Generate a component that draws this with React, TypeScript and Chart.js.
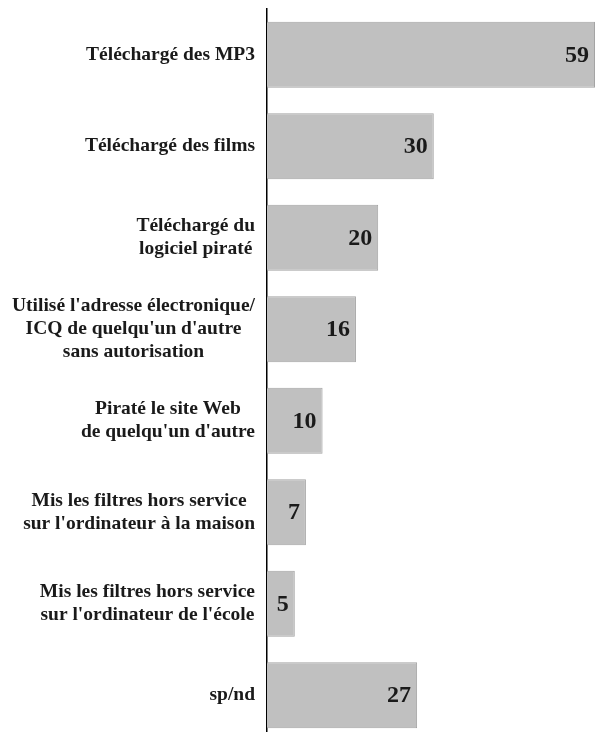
import React, { useEffect, useRef } from "react";
import { Chart, registerables } from "chart.js";

Chart.register(...registerables);

const categories: string[][] = [
  ["Téléchargé des MP3"],
  ["Téléchargé des films"],
  ["Téléchargé du", "logiciel piraté"],
  ["Utilisé l'adresse électronique/", "ICQ de quelqu'un d'autre", "sans autorisation"],
  ["Piraté le site Web", "de quelqu'un d'autre"],
  ["Mis les filtres hors service", "sur l'ordinateur à la maison"],
  ["Mis les filtres hors service", "sur l'ordinateur de l'école"],
  ["sp/nd"],
];

const values: number[] = [59, 30, 20, 16, 10, 7, 5, 27];

const LABEL_FONT = 'bold 19.5px "Liberation Serif", serif';
const VALUE_FONT = 'bold 24px "Liberation Serif", serif';
const LINE_H = 23;

const labelPlugin = {
  id: "customLabels",
  afterDraw(chart: any) {
    const ctx = chart.ctx;
    const yScale = chart.scales.y;
    ctx.save();
    ctx.fillStyle = "#1a1a1a";
    ctx.textBaseline = "middle";
    ctx.font = LABEL_FONT;
    ctx.textAlign = "center";
    categories.forEach((lines, i) => {
      const cy = yScale.getPixelForValue(i);
      const w = Math.max(...lines.map((l) => ctx.measureText(l).width));
      const cx = chart.chartArea.left - 12 - w / 2;
      const n = lines.length;
      lines.forEach((l, j) => {
        ctx.fillText(l, cx, cy + (j - (n - 1) / 2) * LINE_H);
      });
    });
    const meta = chart.getDatasetMeta(0);
    ctx.font = VALUE_FONT;
    ctx.textAlign = "right";
    meta.data.forEach((bar: any, i: number) => {
      ctx.fillText(String(values[i]), bar.x - 6, bar.y + 1);
    });
    ctx.restore();
  },
};

export default function App() {
  const ref = useRef<HTMLCanvasElement | null>(null);
  useEffect(() => {
    document.body.style.margin = "0";
    if (!ref.current) return;
    const chart = new Chart(ref.current, {
      type: "bar",
      data: {
        labels: categories.map((c) => c.join(" ")),
        datasets: [
          {
            data: values,
            backgroundColor: "#c0c0c0",
            borderColor: "#a4a4a4",
            borderWidth: 1,
          },
        ],
      },
      options: {
        indexAxis: "y",
        responsive: false,
        animation: false,
        layout: { padding: { top: 9, left: 0, right: 0, bottom: 0 } },
        plugins: { legend: { display: false }, tooltip: { enabled: false } },
        scales: {
          x: { display: false, min: 0, max: 59 },
          y: {
            display: true,
            grid: { display: false },
            border: { display: true, color: "#000", width: 1.5 },
            ticks: { display: false },
            afterFit: (s: any) => {
              s.width = 267;
            },
          },
        },
      },
      plugins: [labelPlugin],
    });
    return () => chart.destroy();
  }, []);
  return (
    <div style={{ width: 595, height: 732, overflow: "hidden" }}>
      <canvas ref={ref} width={595} height={741} style={{ display: "block" }} />
    </div>
  );
}
